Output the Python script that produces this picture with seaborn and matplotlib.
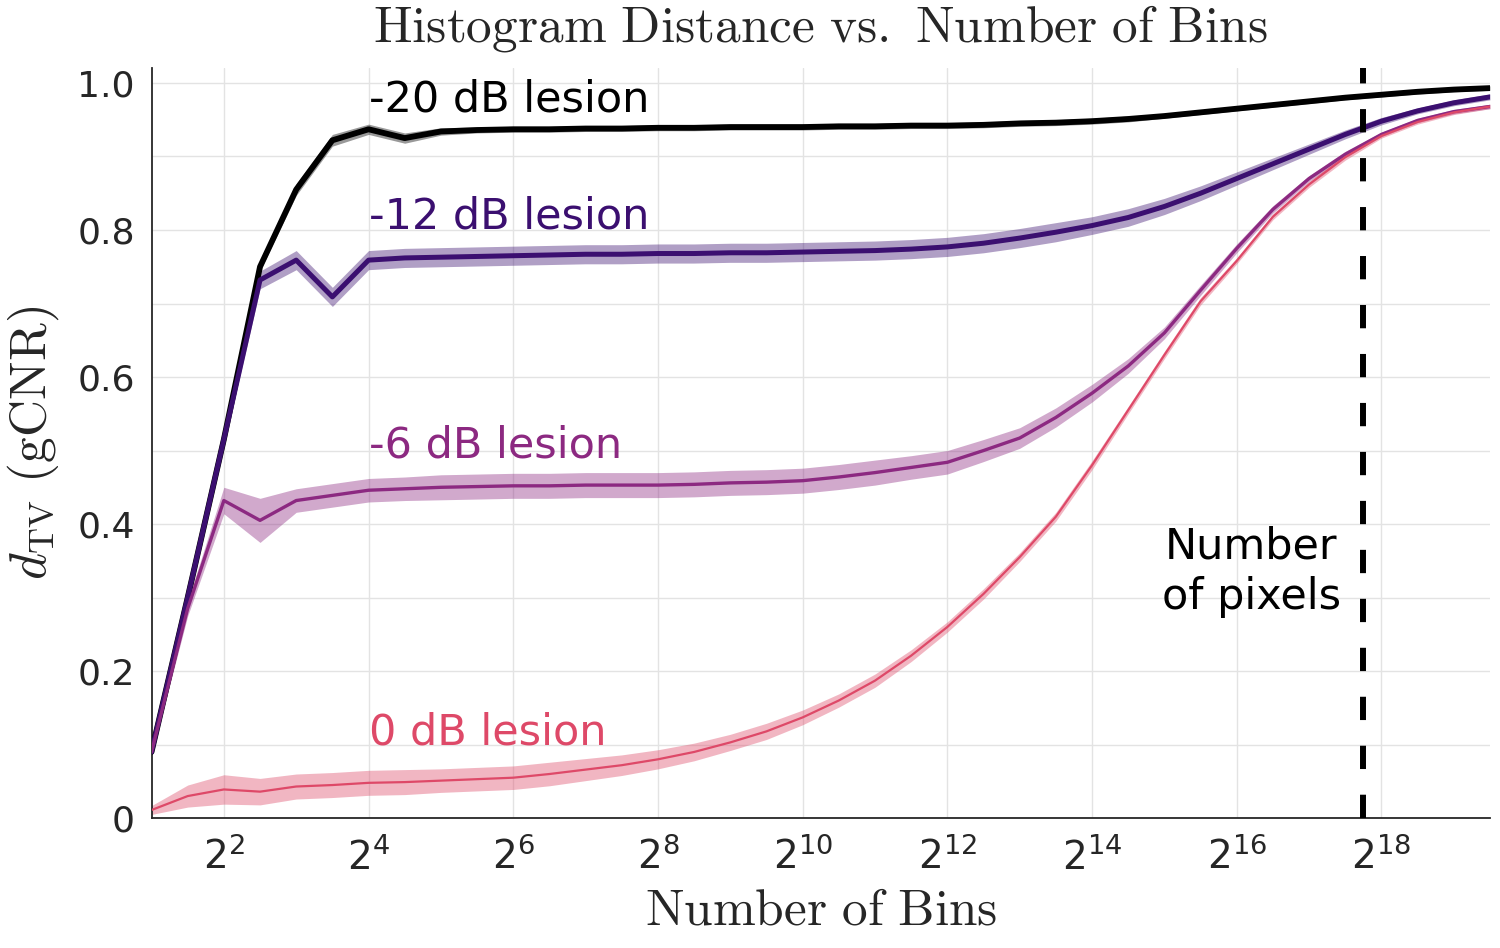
import numpy as np
import pandas as pd
import matplotlib
matplotlib.use("Agg")
import matplotlib.pyplot as plt
import matplotlib.ticker as ticker
import seaborn as sns

# log2 of the number of bins
k = [1, 1.5, 2, 2.5, 3, 3.5, 4, 4.5, 5, 5.5, 6, 6.5, 7, 7.5, 8, 8.5, 9, 9.5, 10,
     10.5, 11, 11.5, 12, 12.5, 13, 13.5, 14, 14.5, 15, 15.5, 16, 16.5, 17, 17.5,
     18, 18.5, 19, 19.5]

lesions = ["-20 dB lesion", "-12 dB lesion", "-6 dB lesion", "0 dB lesion"]

d20 = [0.09, 0.30, 0.515, 0.75, 0.855, 0.922, 0.937, 0.925, 0.934, 0.936, 0.937,
       0.937, 0.938, 0.938, 0.939, 0.939, 0.940, 0.940, 0.940, 0.941, 0.941, 0.942,
       0.942, 0.943, 0.945, 0.946, 0.948, 0.951, 0.955, 0.960, 0.965, 0.970, 0.975,
       0.980, 0.984, 0.988, 0.991, 0.993]
d12 = [0.09, 0.30, 0.515, 0.732, 0.759, 0.709, 0.759, 0.762, 0.763, 0.764, 0.765,
       0.766, 0.767, 0.767, 0.768, 0.768, 0.769, 0.769, 0.770, 0.771, 0.772, 0.774,
       0.777, 0.782, 0.789, 0.797, 0.806, 0.817, 0.832, 0.850, 0.870, 0.890, 0.910,
       0.930, 0.948, 0.962, 0.973, 0.981]
d6 = [0.09, 0.285, 0.432, 0.405, 0.432, 0.439, 0.446, 0.448, 0.450, 0.451, 0.452,
      0.452, 0.453, 0.453, 0.453, 0.454, 0.456, 0.457, 0.459, 0.464, 0.470, 0.477,
      0.484, 0.500, 0.517, 0.545, 0.578, 0.615, 0.660, 0.718, 0.775, 0.828, 0.870,
      0.903, 0.930, 0.949, 0.961, 0.968]
d0 = [0.011, 0.030, 0.039, 0.036, 0.043, 0.045, 0.048, 0.049, 0.051, 0.053, 0.055,
      0.060, 0.066, 0.072, 0.080, 0.090, 0.103, 0.118, 0.137, 0.160, 0.187, 0.221,
      0.260, 0.305, 0.355, 0.410, 0.480, 0.555, 0.630, 0.703, 0.758, 0.818, 0.862,
      0.899, 0.928, 0.947, 0.960, 0.968]

# half width of the shaded band
e20 = [0.003, 0.004, 0.005, 0.006, 0.008, 0.008, 0.007, 0.007, 0.005, 0.004, 0.004,
       0.004, 0.004, 0.004, 0.004, 0.004, 0.004, 0.004, 0.004, 0.004, 0.004, 0.004,
       0.004, 0.004, 0.004, 0.004, 0.004, 0.004, 0.003, 0.003, 0.003, 0.003, 0.003,
       0.003, 0.003, 0.003, 0.003, 0.003]
e12 = [0.004, 0.006, 0.008, 0.012, 0.013, 0.013, 0.013, 0.013, 0.013, 0.013, 0.013,
       0.013, 0.013, 0.013, 0.013, 0.013, 0.013, 0.013, 0.013, 0.013, 0.013, 0.013,
       0.013, 0.013, 0.013, 0.013, 0.012, 0.012, 0.011, 0.010, 0.009, 0.008, 0.007,
       0.006, 0.005, 0.004, 0.004, 0.004]
e6 = [0.004, 0.010, 0.018, 0.030, 0.016, 0.016, 0.016, 0.016, 0.017, 0.017, 0.017,
      0.017, 0.017, 0.017, 0.017, 0.017, 0.017, 0.017, 0.017, 0.017, 0.017, 0.016,
      0.016, 0.015, 0.014, 0.013, 0.012, 0.010, 0.008, 0.007, 0.006, 0.005, 0.004,
      0.004, 0.003, 0.003, 0.003, 0.003]
e0 = [0.006, 0.015, 0.020, 0.018, 0.017, 0.017, 0.017, 0.017, 0.016, 0.016, 0.016,
      0.016, 0.015, 0.014, 0.013, 0.012, 0.011, 0.011, 0.010, 0.009, 0.009, 0.008,
      0.007, 0.007, 0.006, 0.006, 0.006, 0.005, 0.005, 0.005, 0.004, 0.004, 0.004,
      0.004, 0.003, 0.003, 0.003, 0.003]

n_pixels_log2 = 17.74

label_y = [0.977, 0.818, 0.507, 0.116]
widths = [4.2, 3.6, 2.4, 1.6]
colors = ['#000000', '#3b0f70', '#8c2981', '#de4968']

bins = 2.0 ** np.array(k)
means = [d20, d12, d6, d0]
errs = [e20, e12, e6, e0]

df = pd.concat([pd.DataFrame({"bins": bins, "d": m, "e": e, "lesion": name})
                for name, m, e in zip(lesions, means, errs)], ignore_index=True)

sns.set_theme(style="white")
plt.rcParams['font.family'] = ['DejaVu Sans']
plt.rcParams['text.color'] = '#262626'

fig, ax = plt.subplots(figsize=(15, 9.48), dpi=100)
plt.subplots_adjust(left=0.101, right=0.9933, bottom=0.137, top=0.928)

for name, c, lw, ly in zip(lesions, colors, widths, label_y):
    sub = df[df['lesion'] == name]
    ax.fill_between(sub['bins'], sub['d'] - sub['e'], sub['d'] + sub['e'],
                    color=c, alpha=0.4, linewidth=0, zorder=2)
    sns.lineplot(data=sub, x='bins', y='d', color=c, linewidth=lw, ax=ax,
                 legend=False, zorder=3)
    ax.text(2 ** 4, ly, name, color=c, fontsize=31, ha='left', va='center', zorder=4)

ax.axvline(2 ** n_pixels_log2, color='black', linewidth=4.3,
           dashes=(3.9, 4.3), zorder=5)
ax.text(2 ** 16.2, 0.335, "Number\nof pixels", fontsize=31, color='black',
        ha='center', va='center', linespacing=1.25)

ax.set_xscale('log', base=2)
ax.set_xlim(2, 2 ** 19.5)
ax.set_ylim(0, 1.02)
ax.set_xticks([2.0 ** p for p in range(2, 19, 2)])
ax.xaxis.set_major_formatter(ticker.LogFormatterMathtext(base=2))
ax.xaxis.set_minor_locator(ticker.NullLocator())
yt = np.round(np.arange(0, 1.01, 0.1), 1)
ax.set_yticks(yt)
ax.set_yticklabels(['0' if v == 0 else (f'{v:.1f}' if round(v * 10) % 2 == 0 else '')
                    for v in yt])

ax.grid(True, color='#e3e3e3', linewidth=1.0)
ax.set_axisbelow(True)
for s in ['top', 'right']:
    ax.spines[s].set_visible(False)
for s in ['left', 'bottom']:
    ax.spines[s].set_color('#262626')
    ax.spines[s].set_linewidth(1.3)
ax.tick_params(direction='in', length=9, width=1.0, color='#262626',
               labelsize=26, labelcolor='#262626')
ax.tick_params(axis='x', labelsize=28, pad=14)
ax.tick_params(axis='y', pad=12)

ax.set_title(r'$\mathrm{Histogram\ Distance\ vs.\ Number\ of\ Bins}$',
             math_fontfamily='cm', fontsize=37, pad=19, color='#262626')
ax.set_xlabel(r'$\mathrm{Number\ of\ Bins}$', math_fontfamily='cm', fontsize=37,
              labelpad=6, color='#262626')
ax.set_ylabel(r'$d_{\mathrm{TV}}\ \mathrm{(gCNR)}$', math_fontfamily='cm',
              fontsize=37, labelpad=12, color='#262626')

fig.savefig('out.png', dpi=100)
